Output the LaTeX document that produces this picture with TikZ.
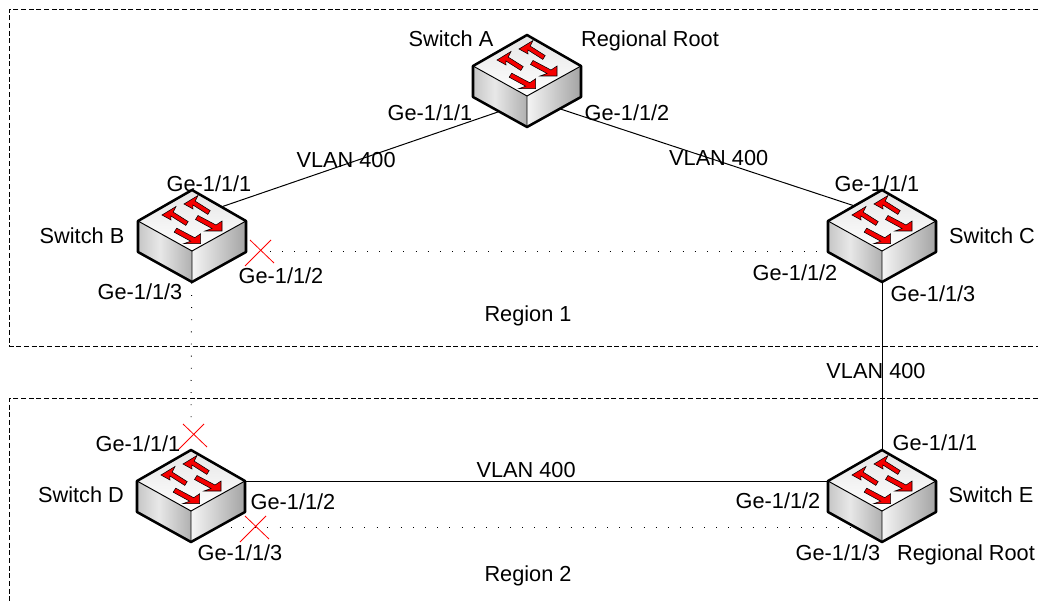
\documentclass[tikz,border=0pt]{standalone}
\usepackage{fontspec}
\setmainfont{Liberation Sans}
\usetikzlibrary{calc}
\definecolor{arrowred}{RGB}{245,0,0}
\pgfdeclareverticalshading{swtop}{100bp}{color(0bp)=(white); color(25bp)=(white); color(75bp)=(gray!20); color(100bp)=(gray!20)}
\pgfdeclarehorizontalshading{swleft}{100bp}{color(0bp)=(gray!45); color(25bp)=(gray!45); color(45bp)=(gray!18); color(75bp)=(gray!62); color(100bp)=(gray!62)}
\pgfdeclarehorizontalshading{swright}{100bp}{color(0bp)=(gray!8); color(25bp)=(gray!8); color(75bp)=(gray!72); color(100bp)=(gray!72)}
\tikzset{
  x=0.75pt,y=-0.75pt,
  lbl/.style={font=\fontsize{16.3pt}{18pt}\selectfont,inner sep=0pt},
  switchbox/.style={minimum width=80pt,minimum height=70pt,inner sep=0pt},
  swarrow/.style={draw=black,line width=0.4pt,fill=arrowred},
  regionbox/.style={line width=0.7pt,dash pattern=on 3.75pt off 2pt},
  linksolid/.style={line width=0.75pt},
  linkdotted/.style={line width=0.75pt,dash pattern=on 0.6pt off 8.5pt},
  blocked/.style={red,line width=0.6pt},
  pics/switch/.style={code={
    \fill[shading=swtop] (0,-46) -- (54,-15) -- (0,15) -- (-54,-15) -- cycle;
    \fill[shading=swleft] (-54,-15) -- (0,15) -- (0,46) -- (-54,16) -- cycle;
    \fill[shading=swright] (54,-15) -- (0,15) -- (0,46) -- (54,16) -- cycle;
    \draw[line width=0.7pt] (-54,-15) -- (0,15) -- (54,-15) (0,15) -- (0,46);
    \draw[line width=1.9pt,line join=round] (0,-46) -- (54,-15) -- (54,16) -- (0,46) -- (-54,16) -- (-54,-15) -- cycle;
    \foreach \ax/\ay in {-8/-32,-30/-21} {
      \draw[swarrow,shift={(\ax,\ay)}]
        (0,0) -- (14,-8.5) -- (11.2,-2.9) -- (26.2,6.6) -- (23.8,10.4) -- (8.8,0.9) -- (9,5) -- cycle;
    }
    \foreach \ax/\ay in {30/-5,8.7/7.7} {
      \draw[swarrow,shift={(\ax,\ay)}]
        (0,0) -- (0,-10) -- (-6,-6) -- (-24,-15.5) -- (-26.5,-11.5) -- (-10,-2.5) -- (-17,0) -- cycle;
    }
  }}
}
\begin{document}
\begin{tikzpicture}
  \useasboundingbox (0,0) rectangle (1038,602);
  \coordinate (r1a) at (1038,9);
  \coordinate (r1b) at (9.5,9);
  \coordinate (r1c) at (9.5,346);
  \coordinate (r1d) at (1038,346);
  \coordinate (r2a) at (1038,398);
  \coordinate (r2b) at (9.5,398);
  \coordinate (r2c) at (9.5,602);
  \draw[regionbox] (r1a) -- (r1b) -- (r1c) -- (r1d);
  \draw[regionbox] (r2a) -- (r2b) -- (r2c);
  \node[switchbox] (swA) at (527,81) {};
  \node[switchbox] (swB) at (192,236) {};
  \node[switchbox] (swC) at (882,236) {};
  \node[switchbox] (swD) at (191,496) {};
  \node[switchbox] (swE) at (882,496) {};
  \path[linksolid]
    ($(swA)+(0,21)$) edge node[pos=.54,lbl,yshift=3pt] (vlanAB) {VLAN 400} ($(swB)+(0,-19)$)
    ($(swA)+(0,17)$) edge node[pos=.54,lbl,yshift=2.5pt] (vlanAC) {VLAN 400} ($(swC)+(0,-21)$)
    (swC) edge node[pos=.5,lbl,xshift=-4.5pt,yshift=-3.5pt] (vlanCE) {VLAN 400} (swE)
    ($(swD)+(0,-15)$) edge node[pos=.485,lbl,yshift=8pt] (vlanDE) {VLAN 400} ($(swE)+(0,-15)$);
  \path[linkdotted]
    (swB) edge ($(swD)+(0,-78)$)
    ($(swB)+(78,16)$) edge ($(swC)+(0,16)$)
    ($(swD)+(40,31)$) edge ($(swE)+(0,31)$);
  \foreach \sw in {swA,swB,swC,swD,swE} {
    \pic at (\sw) {switch};
  }
  \foreach \mx/\my [count=\mi] in {261/251,194/435,256/527} {
    \coordinate (mark\mi) at (\mx,\my);
    \draw[blocked] ($(mark\mi)+(-16,15)$) -- ($(mark\mi)+(10,-11)$);
    \draw[blocked] ($(mark\mi)+(-11,-11)$) -- ($(mark\mi)+(13,12)$);
  }
  \node[lbl] (nameA) at (451,39) {Switch A};
  \node[lbl] (rootA) at (650,41) {Regional Root};
  \node[lbl] (nameB) at (82,236) {Switch B};
  \node[lbl] (nameC) at (992,236) {Switch C};
  \node[lbl] (nameD) at (81,495) {Switch D};
  \node[lbl] (nameE) at (991,495) {Switch E};
  \node[lbl] (rootE) at (966,555) {Regional Root};
  \node[lbl] (region1) at (528,316) {Region 1};
  \node[lbl] (region2) at (528,576) {Region 2};
  \node[lbl] (portA1) at (430,113) {Ge-1/1/1};
  \node[lbl] (portA2) at (627,113) {Ge-1/1/2};
  \node[lbl] (portB1) at (209,184) {Ge-1/1/1};
  \node[lbl] (portB2) at (281,276) {Ge-1/1/2};
  \node[lbl] (portB3) at (140,292) {Ge-1/1/3};
  \node[lbl] (portC1) at (877,184) {Ge-1/1/1};
  \node[lbl] (portC2) at (795,273) {Ge-1/1/2};
  \node[lbl] (portC3) at (933,294) {Ge-1/1/3};
  \node[lbl] (portD1) at (138,444) {Ge-1/1/1};
  \node[lbl] (portD2) at (293,502) {Ge-1/1/2};
  \node[lbl] (portD3) at (240,553) {Ge-1/1/3};
  \node[lbl] (portE1) at (935,443) {Ge-1/1/1};
  \node[lbl] (portE2) at (778,501) {Ge-1/1/2};
  \node[lbl] (portE3) at (838,553) {Ge-1/1/3};
\end{tikzpicture}
\end{document}
